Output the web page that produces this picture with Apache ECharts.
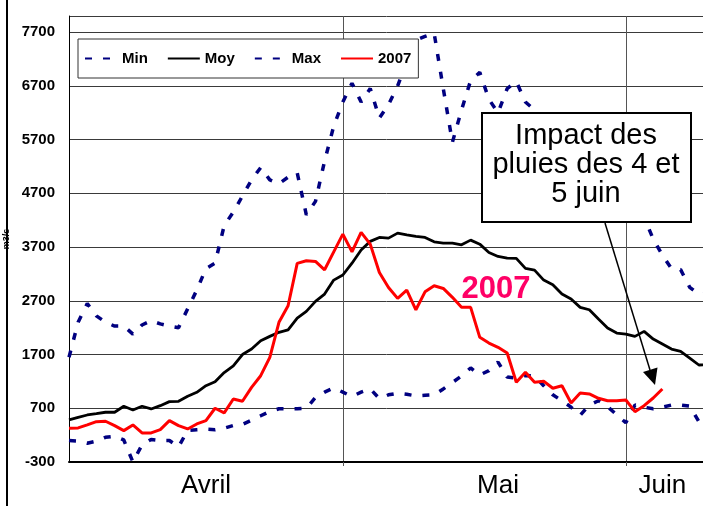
<!DOCTYPE html>
<html>
<head>
<meta charset="utf-8">
<script src="https://cdn.jsdelivr.net/npm/echarts@6/dist/echarts.min.js"></script>
<style>
html, body { margin: 0; padding: 0; background: #fff; }
#chart { width: 703px; height: 506px; }
</style>
</head>
<body>
<div id="chart"></div>
<script>
// debits journaliers du 1er avril au 10 juin, m3/s
var monthNames = ['Avril', 'Mai', 'Juin'];
var monthLengths = [30, 31, 10];
var monthLabelDays = [15, 47, 65];   // ou poser le nom du mois
var monthStartDays = [30, 61];       // traits verticaux 1er mai, 1er juin

var days = [];
monthLengths.forEach(function (n, m) {
    for (var d = 1; d <= n; d++) days.push(d + '/' + (m + 4));
});

var minData = [100, 90, 50, 90, 160, 180, 110, -300, 20, 120,
    100, 100, -20, 290, 300, 310, 300, 330, 380, 400,
    480, 560, 640, 690, 690, 690, 700, 900, 1000, 1080,
    1000, 920, 1000, 1060, 880, 950, 980, 960, 930, 940,
    950, 1060, 1180, 1300, 1450, 1320, 1400, 1560, 1280, 1260,
    1310, 1300, 1120, 950, 840, 720, 570, 760, 840, 730,
    580, 430, 760, 720, 690, 720, 760, 760, 740, 450, 400];

var moyData = [483, 530, 575, 600, 626, 626, 737, 668, 737, 687,
    748, 823, 830, 923, 997, 1120, 1194, 1365, 1490, 1700,
    1802, 1957, 2038, 2113, 2160, 2379, 2503, 2689, 2825, 3085,
    3180, 3400, 3645, 3806, 3879, 3866, 3959, 3927, 3897, 3879,
    3797, 3773, 3773, 3741, 3829, 3754, 3600, 3526, 3494, 3489,
    3303, 3271, 3085, 2998, 2825, 2732, 2578, 2533, 2360, 2193,
    2100, 2081, 2038, 2131, 1988, 1895, 1802, 1760, 1635, 1505, 1510];

var maxData = [1650, 2300, 2650, 2420, 2300, 2230, 2230, 2080, 2250, 2330,
    2270, 2230, 2200, 2550, 2900, 3300, 3400, 4100, 4350, 4650,
    4950, 5180, 4950, 4880, 5000, 5080, 4300, 4550, 5300, 5950,
    6400, 6750, 6400, 6650, 6100, 6350, 6700, 7150, 7550, 7620,
    7680, 6650, 5650, 6250, 6800, 6950, 6450, 6200, 6650, 6780,
    6400, 6250, 6050, 5800, 5600, 5450, 5300, 5150, 5000, 4850,
    4700, 4550, 4450, 4250, 3850, 3550, 3300, 3280, 2950, 2820, 2830];

var data2007 = [328, 334, 390, 451, 458, 376, 284, 390, 241, 241,
    302, 470, 376, 315, 408, 470, 700, 613, 873, 830,
    1090, 1306, 1648, 2299, 2607, 3396, 3444, 3433, 3277, 3611,
    3940, 3611, 3972, 3754, 3228, 2949, 2745, 2899, 2533, 2867,
    2979, 2930, 2764, 2578, 2578, 2020, 1914, 1834, 1728, 1183,
    1369, 1183, 1202, 1072, 1120, 799, 984, 966, 886, 841,
    841, 854, 637, 748, 891, 1059];

var yTicks = { min: -300, max: 8000, step: 1000 };

var FONT = '"Liberation Sans", Arial, sans-serif';

var myChart = echarts.init(document.getElementById('chart'));

function isMonthStart(i) { return monthStartDays.indexOf(i) >= 0; }

var dashed = { color: '#000080', width: 3.5, type: [7, 11], cap: 'butt' };

var option = {
    animation: false,
    grid: { left: 69, top: 16, bottom: 44, right: -5, containLabel: false, outerBoundsMode: 'none' },
    legend: {
        data: ['Min', 'Moy', 'Max', '2007'],
        left: 78,
        top: 39,
        padding: [12, 7, 12, 6],
        itemWidth: 32,
        itemHeight: 14,
        itemGap: 19,
        backgroundColor: '#fff',
        borderColor: '#333',
        borderWidth: 1,
        borderRadius: 0,
        itemStyle: { opacity: 0, color: 'transparent', borderWidth: 0 },
        textStyle: { fontFamily: FONT, fontWeight: 'bold', fontSize: 15, color: '#000' }
    },
    xAxis: {
        type: 'category',
        data: days,
        boundaryGap: false,
        axisLine: { onZero: false, lineStyle: { color: '#000', width: 2 } },
        axisTick: { show: true, interval: isMonthStart, length: 4, lineStyle: { color: '#555' } },
        splitLine: { show: true, interval: isMonthStart, lineStyle: { color: '#555', width: 1 } },
        axisLabel: {
            interval: function (i) { return monthLabelDays.indexOf(i) >= 0; },
            formatter: function (v, i) { return monthNames[monthLabelDays.indexOf(i)]; },
            margin: 11,
            color: '#000',
            fontFamily: FONT,
            fontSize: 26
        }
    },
    yAxis: {
        type: 'value',
        min: yTicks.min,
        max: yTicks.max,
        interval: yTicks.step,
        name: 'm3/s',
        nameLocation: 'middle',
        nameRotate: 90,
        nameGap: 55,
        nameTextStyle: { fontFamily: FONT, fontWeight: 'bold', fontSize: 9, color: '#000' },
        axisLine: { show: true, lineStyle: { color: '#000', width: 1 } },
        axisTick: { show: false },
        splitLine: { lineStyle: { color: '#3a3a3a', width: 1 } },
        axisLabel: {
            showMaxLabel: false,
            margin: 14,
            color: '#000',
            fontFamily: FONT,
            fontWeight: 'bold',
            fontSize: 15,
            formatter: function (v) { return String(v); }
        }
    },
    series: [
        { name: 'Min', type: 'line', data: minData, symbol: 'none', lineStyle: dashed, itemStyle: { color: '#000080' } },
        { name: 'Moy', type: 'line', data: moyData, symbol: 'none', lineStyle: { color: '#000', width: 2.8 }, itemStyle: { color: '#000' } },
        { name: 'Max', type: 'line', data: maxData, symbol: 'none', lineStyle: dashed, itemStyle: { color: '#000080' } },
        { name: '2007', type: 'line', data: data2007, symbol: 'none', lineStyle: { color: '#ff0000', width: 3 }, itemStyle: { color: '#ff0000' } }
    ],
    graphic: [
        { type: 'rect', z: 100, shape: { x: 6, y: 0, width: 2, height: 506 }, style: { fill: '#000' } },
        { type: 'text', z: 60, x: 496, y: 289,
          style: { text: '2007', font: 'bold 31px ' + FONT, fill: '#ff0066', align: 'center', verticalAlign: 'middle' } },
        { type: 'rect', z: 60, shape: { x: 482, y: 113, width: 209, height: 109 },
          style: { fill: '#fff', stroke: '#000', lineWidth: 2 } },
        { type: 'text', z: 61, x: 586, y: 121,
          style: { text: 'Impact des\npluies des 4 et\n5 juin', font: '29px ' + FONT, lineHeight: 29,
                   fill: '#000', align: 'center', verticalAlign: 'top' } },
        { type: 'line', z: 61, shape: { x1: 605, y1: 223, x2: 650, y2: 370 }, style: { stroke: '#000', lineWidth: 1.5 } },
        { type: 'polygon', z: 61, shape: { points: [[655, 385], [643, 372], [657.5, 367.5]] }, style: { fill: '#000' } }
    ]
};

myChart.setOption(option);
</script>
</body>
</html>
